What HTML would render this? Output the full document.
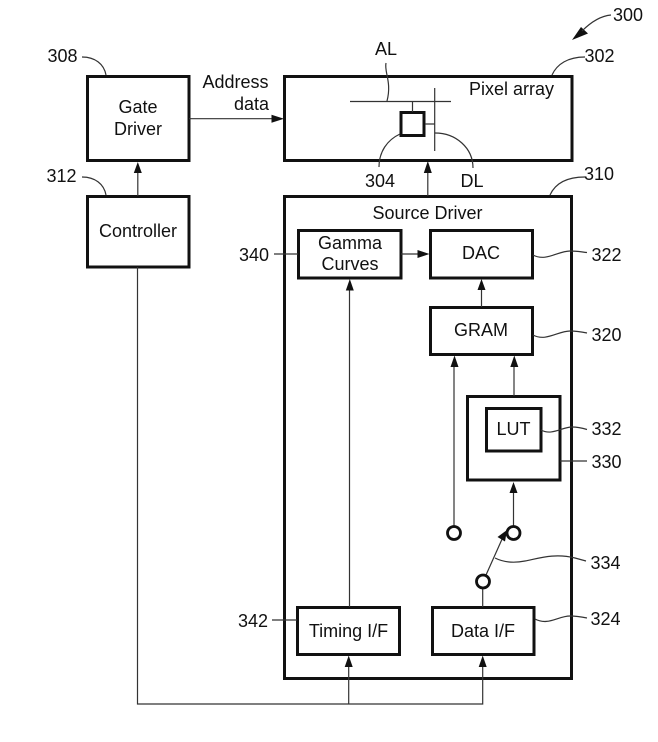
<!DOCTYPE html>
<html>
<head>
<meta charset="utf-8">
<style>
html,body{margin:0;padding:0;background:#fff;}
svg{display:block;}
text{font-family:"Liberation Sans",sans-serif;font-size:18px;fill:#111;text-anchor:middle;}
.b{fill:#fff;stroke:#111;stroke-width:3;}
.l{fill:none;stroke:#333;stroke-width:1.2;}
.a{fill:#111;stroke:none;}
</style>
</head>
<body>
<svg width="658" height="742" viewBox="0 0 658 742" xmlns="http://www.w3.org/2000/svg">
<!-- outer boxes -->
<rect class="b" x="87.5" y="76.5" width="101.5" height="84"/>
<rect class="b" x="87.5" y="196.5" width="101.5" height="70.5"/>
<rect class="b" x="284.5" y="76.5" width="287.5" height="84"/>
<rect class="b" x="284.5" y="196.5" width="287" height="482"/>
<rect class="b" x="298.5" y="230.5" width="102.5" height="47.5"/>
<rect class="b" x="430.5" y="230.5" width="102" height="47.5"/>
<rect class="b" x="430.5" y="307.5" width="102" height="47"/>
<rect class="b" x="467.5" y="396.5" width="92.5" height="83.5"/>
<rect class="b" x="486.5" y="408.5" width="54.5" height="42.5"/>
<rect class="b" x="297.5" y="607.5" width="102" height="47"/>
<rect class="b" x="432.5" y="607.5" width="101.5" height="47"/>
<rect class="b" x="401" y="112.500" width="23" height="23"/>

<!-- pixel internals -->
<path class="l" d="M350 101.500H451M412.500 102V112M434.700 88V151M425 124H435"/>
<!-- connectors -->
<path class="l" d="M189 118.700H272"/>
<path class="l" d="M137.800 196V172"/>
<path class="l" d="M427.800 196V171"/>
<path class="l" d="M401 254H419"/>
<path class="l" d="M481.500 307V288"/>
<path class="l" d="M349.500 607V288"/>
<path class="l" d="M454 526V366"/>
<path class="l" d="M514 396V366"/>
<path class="l" d="M513.500 526V491"/>
<path class="l" d="M486 575L503 537"/>
<path class="l" d="M482.700 589V607"/>
<path class="l" d="M137.500 267V704H482.700V665M348.700 704V665"/>
<!-- arrowheads -->
<path class="a" d="M284 118.700L271.500 114.700V122.700Z"/>
<path class="a" d="M137.800 162L133.800 173H141.800Z"/>
<path class="a" d="M427.800 161L423.800 173H431.800Z"/>
<path class="a" d="M429.500 254L417.500 250V258Z"/>
<path class="a" d="M481.500 279L477.500 290H485.500Z"/>
<path class="a" d="M349.800 279L345.800 290.500H353.800Z"/>
<path class="a" d="M454.500 355.500L450.500 367H458.500Z"/>
<path class="a" d="M514.300 355.500L510.300 367H518.300Z"/>
<path class="a" d="M513.500 482L509.500 493H517.500Z"/>
<path class="a" d="M348.700 655.500L344.700 667H352.700Z"/>
<path class="a" d="M482.700 655.500L478.700 667H486.700Z"/>
<path class="a" d="M507 530L497.500 537L505 541.500Z"/>
<path class="a" d="M572 40L581 27L588 33.500Z"/>
<!-- switch circles -->
<circle cx="454" cy="533" r="6.500" fill="#fff" stroke="#111" stroke-width="2.800"/>
<circle cx="513.500" cy="533" r="6.500" fill="#fff" stroke="#111" stroke-width="2.800"/>
<circle cx="483" cy="581.500" r="6.500" fill="#fff" stroke="#111" stroke-width="2.800"/>
<!-- leaders -->
<path class="l" d="M611 15C600 16 590 23 582 31"/>
<path class="l" d="M552 75C557 64 568 57 585 57"/>
<path class="l" d="M550 195C555 184 566 177 585 177"/>
<path class="l" d="M82 57C95 57 104 64 106 75"/>
<path class="l" d="M82 177C95 177 104 184 106 195"/>
<path class="l" d="M386 63C384 72 392 82 387 101"/>
<path class="l" d="M400 134C387 140 379 152 379 167"/>
<path class="l" d="M435 133C456 133 473 148 473 168"/>
<path class="l" d="M274 254H298"/>
<path class="l" d="M272 620H297"/>
<path class="l" d="M533 255C546 262 558 251 570 251C577 251 582 252 587 252.500"/>
<path class="l" d="M533 335C546 342 558 331 570 331C577 331 582 332 587 333"/>
<path class="l" d="M541 430C552 436 562 427 572 427C578 427 582 428 587 429.500"/>
<path class="l" d="M560 461H587"/>
<path class="l" d="M495 558C505 563 515 563 525 561C540 558 555 553 575 558L586 561"/>
<path class="l" d="M535 619C548 626 558 616 570 616C577 616 582 617 587 618"/>
<!-- labels -->
<text x="628" y="21">300</text>
<text x="599.500" y="62">302</text>
<text x="62.500" y="62">308</text>
<text x="61.500" y="182">312</text>
<text x="386" y="55">AL</text>
<text x="511.500" y="95">Pixel array</text>
<text x="235.500" y="88">Address</text>
<text x="251.500" y="110">data</text>
<text x="138" y="113">Gate</text>
<text x="138" y="135">Driver</text>
<text x="138" y="237">Controller</text>
<text x="380" y="187">304</text>
<text x="472" y="187">DL</text>
<text x="599" y="180">310</text>
<text x="427.500" y="219">Source Driver</text>
<text x="350" y="249">Gamma</text>
<text x="350" y="270">Curves</text>
<text x="481" y="259">DAC</text>
<text x="481" y="336">GRAM</text>
<text x="513.500" y="435">LUT</text>
<text x="348.500" y="637">Timing I/F</text>
<text x="483" y="637">Data I/F</text>
<text x="254" y="261">340</text>
<text x="606.500" y="261">322</text>
<text x="606.500" y="341">320</text>
<text x="606.500" y="435">332</text>
<text x="606.500" y="468">330</text>
<text x="605.500" y="569">334</text>
<text x="253" y="627">342</text>
<text x="605.500" y="625">324</text>
</svg>
</body>
</html>
